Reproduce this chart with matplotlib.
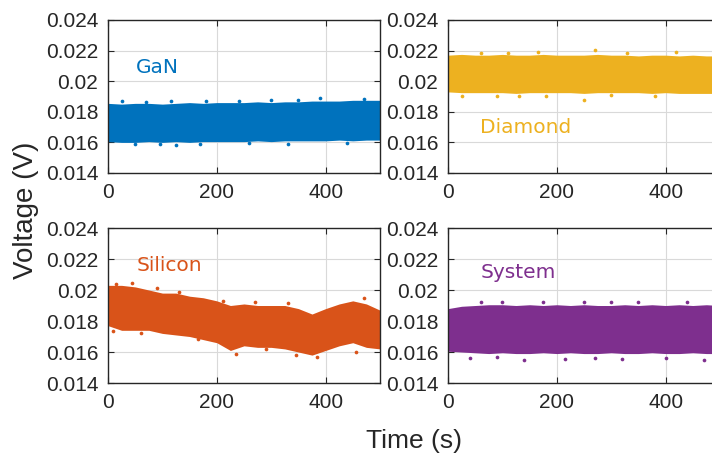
import numpy as np
import matplotlib.pyplot as plt

# time grid where the band edges were read (s)
t = [0, 25, 50, 75, 100, 125, 150, 175, 200, 225, 250,
     275, 300, 325, 350, 375, 400, 425, 450, 475, 500]

# upper / lower edges of each noisy voltage band (V)
gan_top = [0.01855, 0.01850, 0.01855, 0.01855, 0.01850, 0.01855, 0.01860, 0.01855, 0.01860, 0.01860, 0.01860,
           0.01865, 0.01860, 0.01865, 0.01865, 0.01870, 0.01870, 0.01870, 0.01875, 0.01875, 0.01875]
gan_bot = [0.01605, 0.01600, 0.01600, 0.01605, 0.01600, 0.01605, 0.01600, 0.01605, 0.01605, 0.01605, 0.01605,
           0.01610, 0.01605, 0.01610, 0.01610, 0.01610, 0.01610, 0.01615, 0.01610, 0.01615, 0.01615]

dia_top = [0.02170, 0.02175, 0.02170, 0.02170, 0.02175, 0.02170, 0.02170, 0.02175, 0.02170, 0.02170, 0.02170,
           0.02175, 0.02170, 0.02170, 0.02165, 0.02170, 0.02170, 0.02165, 0.02170, 0.02165, 0.02165]
dia_bot = [0.01930, 0.01925, 0.01925, 0.01925, 0.01925, 0.01920, 0.01925, 0.01925, 0.01925, 0.01925, 0.01920,
           0.01925, 0.01925, 0.01925, 0.01925, 0.01920, 0.01925, 0.01920, 0.01920, 0.01920, 0.01920]

si_top = [0.0203, 0.0203, 0.0202, 0.0200, 0.0198, 0.0198, 0.0196, 0.0195, 0.0193, 0.0190, 0.0191,
          0.0190, 0.0190, 0.0190, 0.0188, 0.01845, 0.0188, 0.0191, 0.0193, 0.0191, 0.0187]
si_bot = [0.0177, 0.0174, 0.0174, 0.0174, 0.0172, 0.0171, 0.0170, 0.0168, 0.0166, 0.0161, 0.0164,
          0.0163, 0.0163, 0.0162, 0.0160, 0.0158, 0.0161, 0.0164, 0.0166, 0.0163, 0.0162]

sys_top = [0.01880, 0.01895, 0.01900, 0.01905, 0.01905, 0.01900, 0.01905, 0.01900, 0.01905, 0.01900, 0.01905,
           0.01900, 0.01900, 0.01905, 0.01900, 0.01905, 0.01900, 0.01905, 0.01900, 0.01905, 0.01900]
sys_bot = [0.01605, 0.01600, 0.01595, 0.01590, 0.01595, 0.01590, 0.01590, 0.01595, 0.01590, 0.01595, 0.01590,
           0.01590, 0.01595, 0.01590, 0.01590, 0.01595, 0.01590, 0.01590, 0.01595, 0.01590, 0.01590]

# stray samples outside the dense band
gan_out_t = [25, 70, 115, 180, 240, 300, 350, 390, 470, 50, 95, 125, 170, 260, 330, 440]
gan_out_v = [0.01868, 0.01865, 0.01872, 0.01870, 0.01872, 0.01880, 0.01878, 0.01890, 0.01885,
             0.01590, 0.01592, 0.01585, 0.01588, 0.01594, 0.01592, 0.01595]
dia_out_t = [60, 110, 165, 270, 330, 420, 25, 90, 180, 250, 300, 380, 130]
dia_out_v = [0.02185, 0.02182, 0.02190, 0.02205, 0.02182, 0.02190, 0.01900, 0.01905, 0.01900, 0.01880,
             0.01908, 0.01900, 0.01905]
si_out_t = [15, 45, 90, 130, 212, 270, 330, 470, 10, 60, 165, 235, 290, 345, 385, 455]
si_out_v = [0.02040, 0.02045, 0.02010, 0.01990, 0.01930, 0.01920, 0.01915, 0.01950,
            0.01735, 0.01725, 0.01685, 0.01590, 0.01620, 0.01580, 0.01570, 0.01600]
sys_out_t = [60, 100, 175, 250, 300, 350, 440, 40, 90, 140, 215, 270, 320, 400, 470]
sys_out_v = [0.01920, 0.01925, 0.01925, 0.01922, 0.01925, 0.01925, 0.01920,
             0.01560, 0.01565, 0.01550, 0.01555, 0.01562, 0.01555, 0.01560, 0.01550]

names = ["GaN", "Diamond", "Silicon", "System"]
colors = ["#0072BD", "#EDB120", "#D95319", "#7E2F8E"]
tops = [gan_top, dia_top, si_top, sys_top]
bots = [gan_bot, dia_bot, si_bot, sys_bot]
outs_t = [gan_out_t, dia_out_t, si_out_t, sys_out_t]
outs_v = [gan_out_v, dia_out_v, si_out_v, sys_out_v]
label_pos = [(52, 0.0209), (59, 0.0170), (52, 0.02155), (60, 0.0211)]

fig = plt.figure(figsize=(7.12, 4.55), dpi=100)
rects = [[0.1517, 0.6198, 0.382, 0.3363],
         [0.6292, 0.6198, 0.382, 0.3363],
         [0.1517, 0.1582, 0.382, 0.3407],
         [0.6292, 0.1582, 0.382, 0.3407]]

dark = "#262626"
for i in range(4):
    ax = fig.add_axes(rects[i])
    ax.fill_between(t, bots[i], tops[i], color=colors[i], linewidth=0)
    ax.scatter(outs_t[i], outs_v[i], s=7, color=colors[i], linewidths=0)
    ax.text(label_pos[i][0], label_pos[i][1], names[i], color=colors[i],
            fontsize=14.5, family="DejaVu Sans", va="center", ha="left")
    ax.set_xlim(0, 500)
    ax.set_ylim(0.014, 0.024)
    ax.set_xticks([0, 200, 400])
    ax.set_yticks([0.014, 0.016, 0.018, 0.02, 0.022, 0.024])
    ax.set_yticklabels(["0.014", "0.016", "0.018", "0.02", "0.022", "0.024"])
    ax.grid(True, color="#d9d9d9", linewidth=0.8)
    ax.set_axisbelow(True)
    ax.tick_params(direction="in", top=True, right=True, length=4, width=0.8,
                   colors=dark, labelsize=15, pad=7)
    for lab in ax.get_xticklabels() + ax.get_yticklabels():
        lab.set_family("Liberation Sans")
    for s in ax.spines.values():
        s.set_color(dark)
        s.set_linewidth(1.0)

fig.text(0.036, 0.537, "Voltage (V)", rotation=90, ha="center", va="center",
         fontsize=20, color=dark, family="Liberation Sans")
fig.text(0.581, 0.031, "Time (s)", ha="center", va="center",
         fontsize=19, color=dark, family="Liberation Sans")

fig.savefig("out.png", dpi=100)
